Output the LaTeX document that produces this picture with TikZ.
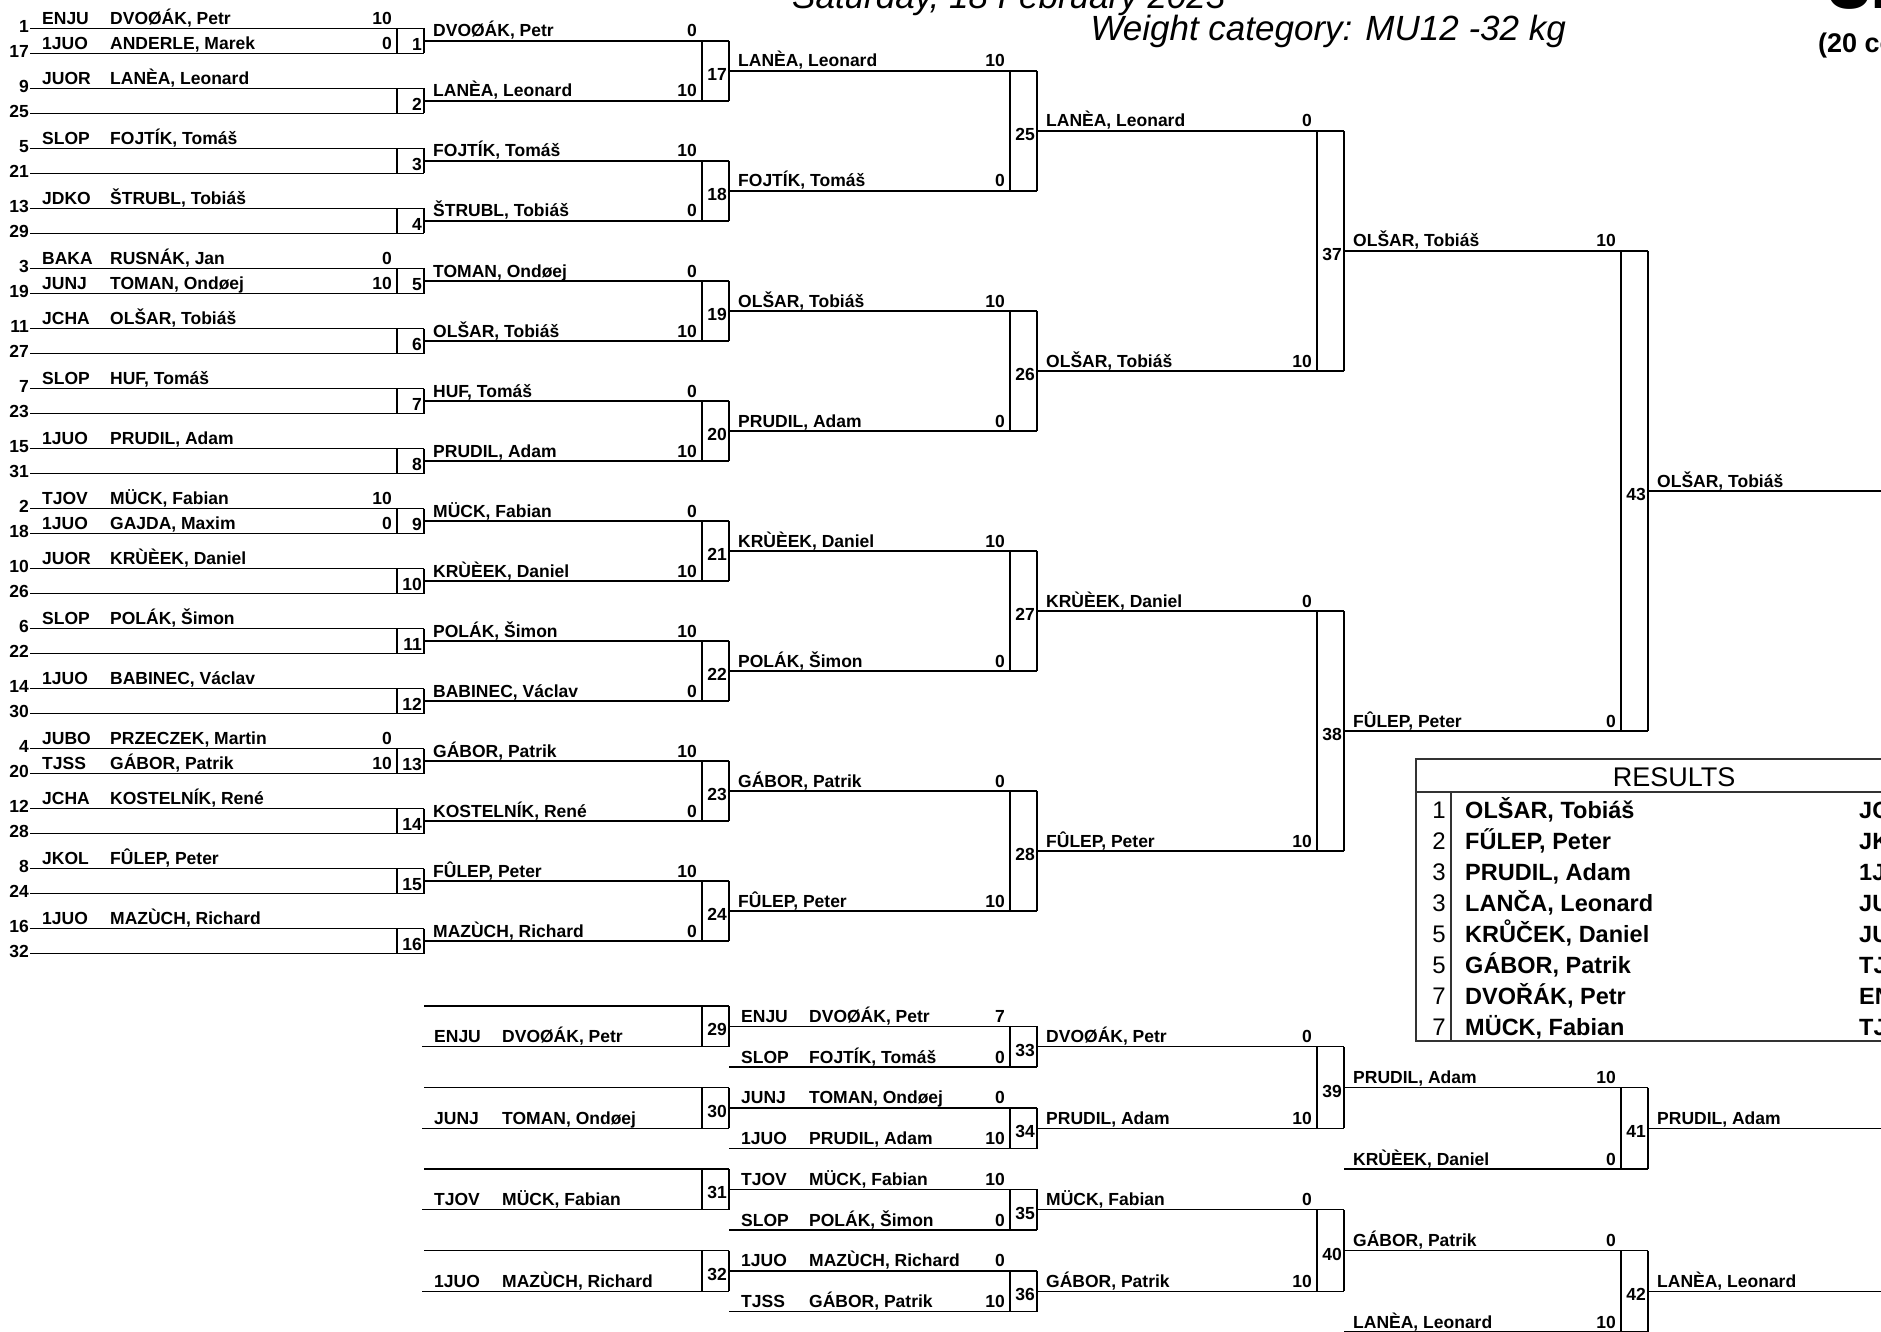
\documentclass[tikz,border=0pt]{standalone}
\usepackage{fontspec}
\setmainfont{Liberation Sans}

\newcommand{\lblfont}{\fontsize{17.5}{19}\selectfont\bfseries}

\tikzset{
  bline/.style={line width=1.4pt},
  lbl/.style={font=\lblfont, inner sep=0pt, anchor=base west},
  scr/.style={lbl, anchor=base east},
  seed/.style={lbl, anchor=east},
  mnum/.style={lbl, anchor=east},
  thin/.style={line width=1.1pt, black!80},
}

% fighter line: id, x start, x end, y, club, name, score
\newcommand{\fighter}[7]{%
  \draw[bline] (#2,#4) -- (#3,#4);
  \node[lbl] (#1-c) at (#2+12,#4-4) {#5};
  \node[lbl] (#1-n) at (#2+80,#4-4) {#6};
  \node[scr] (#1-s) at (#3-32,#4-4) {#7};
}
% winner line: id, x start, x end, y, name, score
\newcommand{\winner}[6]{%
  \draw[bline] (#2,#4) -- (#3,#4);
  \node[lbl] (#1-n) at (#2+9,#4-4) {#5};
  \node[scr] (#1-s) at (#3-32,#4-4) {#6};
}
% match box: number, x right, y top, y bottom
\newcommand{\matchbox}[4]{%
  \draw[bline] (#2-27,#3) -- (#2-27,#4) (#2,#3) -- (#2,#4);
  \node[mnum] (m#1) at (#2-2,{(#3+#4)/2+3.5}) {#1};
}

\begin{document}
\begin{tikzpicture}[x=1pt, y=-1pt]
  \useasboundingbox (0,0) rectangle (1881,1332);

  % titles
  \node[font=\fontsize{35}{40}\selectfont\itshape, inner sep=0pt, anchor=base west]
    (date) at (792,9) {Saturday, 18 February 2023};
  \node[font=\fontsize{35}{40}\selectfont\itshape, inner sep=0pt, anchor=base east]
    (wcat) at (1566,41) {Weight category: MU12 -32 kg};
  \node[font=\fontsize{80}{90}\selectfont\bfseries, inner sep=0pt, anchor=base west]
    (big) at (1801,9) {-32 kg};
  \node[font=\fontsize{27}{30}\selectfont\bfseries, inner sep=0pt, anchor=base west]
    (count) at (1818,53) {(20 competitors)};

  % first round
  \foreach \k/\sa/\sb/\ca/\na/\pa/\cb/\nb/\pb in {
    1/1/17/ENJU/{DVOØÁK, Petr}/10/1JUO/{ANDERLE, Marek}/0,
    2/9/25/JUOR/{LANÈA, Leonard}/{}/{}/{}/{},
    3/5/21/SLOP/{FOJTÍK, Tomáš}/{}/{}/{}/{},
    4/13/29/JDKO/{ŠTRUBL, Tobiáš}/{}/{}/{}/{},
    5/3/19/BAKA/{RUSNÁK, Jan}/0/JUNJ/{TOMAN, Ondøej}/10,
    6/11/27/JCHA/{OLŠAR, Tobiáš}/{}/{}/{}/{},
    7/7/23/SLOP/{HUF, Tomáš}/{}/{}/{}/{},
    8/15/31/1JUO/{PRUDIL, Adam}/{}/{}/{}/{},
    9/2/18/TJOV/{MÜCK, Fabian}/10/1JUO/{GAJDA, Maxim}/0,
    10/10/26/JUOR/{KRÙÈEK, Daniel}/{}/{}/{}/{},
    11/6/22/SLOP/{POLÁK, Šimon}/{}/{}/{}/{},
    12/14/30/1JUO/{BABINEC, Václav}/{}/{}/{}/{},
    13/4/20/JUBO/{PRZECZEK, Martin}/0/TJSS/{GÁBOR, Patrik}/10,
    14/12/28/JCHA/{KOSTELNÍK, René}/{}/{}/{}/{},
    15/8/24/JKOL/{FÛLEP, Peter}/{}/{}/{}/{},
    16/16/32/1JUO/{MAZÙCH, Richard}/{}/{}/{}/{}}{
    \pgfmathsetmacro\yt{28.5+60*(\k-1)}
    \pgfmathsetmacro\yb{\yt+25}
    \fighter{a\k}{30}{424}{\yt}{\ca}{\na}{\pa}
    \fighter{b\k}{30}{424}{\yb}{\cb}{\nb}{\pb}
    \node[seed] (s\sa) at (29,\yt-2) {\sa};
    \node[seed] (s\sb) at (29,\yb-2) {\sb};
    \matchbox{\k}{424}{\yt}{\yb}
  }

  % second round
  \foreach \k/\na/\pa in {1/{DVOØÁK, Petr}/0, 2/{LANÈA, Leonard}/10,
    3/{FOJTÍK, Tomáš}/10, 4/{ŠTRUBL, Tobiáš}/0, 5/{TOMAN, Ondøej}/0,
    6/{OLŠAR, Tobiáš}/10, 7/{HUF, Tomáš}/0, 8/{PRUDIL, Adam}/10,
    9/{MÜCK, Fabian}/0, 10/{KRÙÈEK, Daniel}/10, 11/{POLÁK, Šimon}/10,
    12/{BABINEC, Václav}/0, 13/{GÁBOR, Patrik}/10, 14/{KOSTELNÍK, René}/0,
    15/{FÛLEP, Peter}/10, 16/{MAZÙCH, Richard}/0}{
    \pgfmathsetmacro\yy{41+60*(\k-1)}
    \winner{w2-\k}{424}{729}{\yy}{\na}{\pa}
  }
  \foreach \i in {0,...,7}{
    \pgfmathtruncatemacro\m{17+\i}
    \pgfmathsetmacro\yt{41+120*\i}
    \matchbox{\m}{729}{\yt}{\yt+60}
  }

  % third round
  \foreach \k/\na/\pa in {1/{LANÈA, Leonard}/10, 2/{FOJTÍK, Tomáš}/0,
    3/{OLŠAR, Tobiáš}/10, 4/{PRUDIL, Adam}/0, 5/{KRÙÈEK, Daniel}/10,
    6/{POLÁK, Šimon}/0, 7/{GÁBOR, Patrik}/0, 8/{FÛLEP, Peter}/10}{
    \pgfmathsetmacro\yy{71+120*(\k-1)}
    \winner{w3-\k}{729}{1037}{\yy}{\na}{\pa}
  }
  \foreach \i in {0,...,3}{
    \pgfmathtruncatemacro\m{25+\i}
    \pgfmathsetmacro\yt{71+240*\i}
    \matchbox{\m}{1037}{\yt}{\yt+120}
  }

  % quarter and semi finals
  \foreach \k/\na/\pa in {1/{LANÈA, Leonard}/0, 2/{OLŠAR, Tobiáš}/10,
    3/{KRÙÈEK, Daniel}/0, 4/{FÛLEP, Peter}/10}{
    \pgfmathsetmacro\yy{131+240*(\k-1)}
    \winner{w4-\k}{1037}{1344}{\yy}{\na}{\pa}
  }
  \matchbox{37}{1344}{131}{371}
  \matchbox{38}{1344}{611}{851}
  \winner{w5-1}{1344}{1648}{251}{OLŠAR, Tobiáš}{10}
  \winner{w5-2}{1344}{1648}{731}{FÛLEP, Peter}{0}
  \matchbox{43}{1648}{251}{731}
  \winner{fin}{1648}{1900}{491}{OLŠAR, Tobiáš}{}

  % repechage
  \foreach \i/\m/\c/\n in {0/29/ENJU/{DVOØÁK, Petr}, 1/30/JUNJ/{TOMAN, Ondøej},
    2/31/TJOV/{MÜCK, Fabian}, 3/32/1JUO/{MAZÙCH, Richard}}{
    \pgfmathsetmacro\yt{1006+81.5*\i}
    \pgfmathsetmacro\yb{\yt+40.75}
    \draw[bline] (424,\yt) -- (729,\yt);
    \fighter{r\m}{422}{729}{\yb}{\c}{\n}{}
    \matchbox{\m}{729}{\yt}{\yb}
  }
  \foreach \i/\m/\ca/\na/\pa/\cb/\nb/\pb in {
    0/33/ENJU/{DVOØÁK, Petr}/7/SLOP/{FOJTÍK, Tomáš}/0,
    1/34/JUNJ/{TOMAN, Ondøej}/0/1JUO/{PRUDIL, Adam}/10,
    2/35/TJOV/{MÜCK, Fabian}/10/SLOP/{POLÁK, Šimon}/0,
    3/36/1JUO/{MAZÙCH, Richard}/0/TJSS/{GÁBOR, Patrik}/10}{
    \pgfmathsetmacro\yt{1026.375+81.5*\i}
    \pgfmathsetmacro\yb{\yt+40.75}
    \fighter{ra\m}{729}{1037}{\yt}{\ca}{\na}{\pa}
    \fighter{rb\m}{729}{1037}{\yb}{\cb}{\nb}{\pb}
    \matchbox{\m}{1037}{\yt}{\yb}
  }
  \foreach \i/\na/\pa in {0/{DVOØÁK, Petr}/0, 1/{PRUDIL, Adam}/10,
    2/{MÜCK, Fabian}/0, 3/{GÁBOR, Patrik}/10}{
    \pgfmathsetmacro\yy{1046.75+81.5*\i}
    \winner{rw\i}{1037}{1344}{\yy}{\na}{\pa}
  }
  \matchbox{39}{1344}{1046.75}{1128.25}
  \matchbox{40}{1344}{1209.75}{1291.25}
  \winner{r39}{1344}{1648}{1087.5}{PRUDIL, Adam}{10}
  \winner{rx41}{1344}{1648}{1169}{KRÙÈEK, Daniel}{0}
  \winner{r40}{1344}{1648}{1250.5}{GÁBOR, Patrik}{0}
  \winner{rx42}{1344}{1648}{1332}{LANÈA, Leonard}{10}
  \matchbox{41}{1648}{1087.5}{1169}
  \matchbox{42}{1648}{1250.5}{1332}
  \winner{r41}{1648}{1900}{1128.25}{PRUDIL, Adam}{}
  \winner{r42}{1648}{1900}{1291.25}{LANÈA, Leonard}{}

  % results table
  \draw[thin] (1416,759) rectangle (1940,1041);
  \draw[thin] (1416,792) -- (1940,792) (1451,792) -- (1451,1041);
  \node[font=\fontsize{27}{30}\selectfont, inner sep=0pt, anchor=base] (res) at (1674,786) {RESULTS};
  \foreach \r/\p/\n/\c in {1/1/{OLŠAR, Tobiáš}/JCHA, 2/2/{FŰLEP, Peter}/JKOL,
    3/3/{PRUDIL, Adam}/1JUO, 4/3/{LANČA, Leonard}/JUOR, 5/5/{KRŮČEK, Daniel}/JUOR,
    6/5/{GÁBOR, Patrik}/TJSS, 7/7/{DVOŘÁK, Petr}/ENJU, 8/7/{MÜCK, Fabian}/TJOV}{
    \pgfmathsetmacro\yy{792+31.1*\r-5}
    \node[font=\fontsize{24}{27}\selectfont, inner sep=0pt, anchor=base east] (rk\r) at (1446,\yy) {\p};
    \node[font=\fontsize{23.5}{26}\selectfont\bfseries, inner sep=0pt, anchor=base west] (rn\r) at (1465,\yy) {\n};
    \node[font=\fontsize{23.5}{26}\selectfont\bfseries, inner sep=0pt, anchor=base west] (rc\r) at (1859,\yy) {\c};
  }
\end{tikzpicture}
\end{document}
